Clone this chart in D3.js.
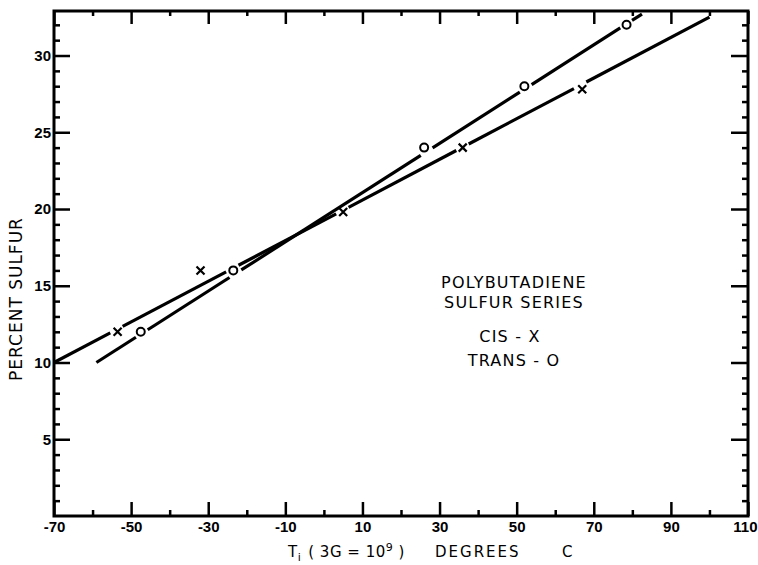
<!DOCTYPE html>
<html><head><meta charset="utf-8">
<script src="https://cdn.jsdelivr.net/npm/d3@7"></script>
<style>
body{margin:0;background:#fff;}
svg{display:block;}
text{fill:#000;}
</style></head><body>
<svg id="c" width="758" height="565"></svg>
<script>
// ---- data ----
const cisX = [-53.5, -32, 5, 36, 67];
const cisY = [12, 16, 19.8, 24, 27.8];
const transX = [-47.5, -23.5, 26, 52, 78.5];
const transY = [12, 16, 24, 28, 32];
const cisFitX = [-70, 100];
const cisFitY = [10, 32.5];
const transFitX = [-59, 82.5];
const transFitY = [10, 32.7];
const xTickLabels = [-70, -50, -30, -10, 10, 30, 50, 70, 90, 110];
const xMinorTicks = [-60, -40, -20, 0, 20, 40, 60, 80, 100];
const yTickLabels = [5, 10, 15, 20, 25, 30];
const yMinorTicks = [1,2,3,4,6,7,8,9,11,12,13,14,16,17,18,19,21,22,23,24,26,27,28,29,31,32];
const annotation = ["POLYBUTADIENE", "SULFUR SERIES", "CIS - X", "TRANS - O"];

const svg = d3.select("#c");
const L = 54, R = 748, T = 11, B = 516;
const x = d3.scaleLinear().domain([-70, 110]).range([L, R]);
const y = d3.scaleLinear().domain([0, 32.9]).range([B, T]);
const fmt = d => String(d);
const SANS = "Liberation Sans, Arial, sans-serif";
const DJ = "DejaVu Sans, sans-serif";

function styleAxis(g, w) {
  g.select(".domain").remove();
  g.selectAll(".tick line").attr("stroke", "#000").attr("stroke-width", w);
  g.selectAll(".tick text").style("font-size", "15px").style("font-weight", "bold")
   .style("font-family", SANS);
}
// bottom
svg.append("g").attr("transform", `translate(0,${B})`)
  .call(d3.axisBottom(x).tickValues(xTickLabels).tickSize(-14).tickPadding(5).tickFormat(fmt))
  .call(g => styleAxis(g, 2.5))
  .call(g => g.selectAll(".tick text").filter(d => d === 110).attr("text-anchor", "end").attr("dx", 9));
svg.append("g").attr("transform", `translate(0,${B})`)
  .call(d3.axisBottom(x).tickValues(xMinorTicks).tickSize(-6).tickFormat(""))
  .call(g => styleAxis(g, 2.5));
// top
svg.append("g").attr("transform", `translate(0,${T})`)
  .call(d3.axisTop(x).tickValues(xTickLabels).tickSize(-13).tickFormat(""))
  .call(g => styleAxis(g, 2.5));
svg.append("g").attr("transform", `translate(0,${T})`)
  .call(d3.axisTop(x).tickValues(xMinorTicks).tickSize(-5).tickFormat(""))
  .call(g => styleAxis(g, 2.5));
// left
svg.append("g").attr("transform", `translate(${L},0)`)
  .call(d3.axisLeft(y).tickValues(yTickLabels).tickSize(-16).tickPadding(3).tickFormat(fmt))
  .call(g => styleAxis(g, 2.5));
svg.append("g").attr("transform", `translate(${L},0)`)
  .call(d3.axisLeft(y).tickValues(yMinorTicks).tickSize(-6).tickFormat(""))
  .call(g => styleAxis(g, 2.5));
// right
svg.append("g").attr("transform", `translate(${R},0)`)
  .call(d3.axisRight(y).tickValues(yTickLabels).tickSize(-17).tickFormat(""))
  .call(g => styleAxis(g, 2.5));
svg.append("g").attr("transform", `translate(${R},0)`)
  .call(d3.axisRight(y).tickValues(yMinorTicks).tickSize(-6).tickFormat(""))
  .call(g => styleAxis(g, 2.5));

// frame
svg.append("rect").attr("x", L).attr("y", T).attr("width", R - L).attr("height", B - T)
  .attr("fill", "none").attr("stroke", "#000").attr("stroke-width", 3);

// fit lines with gaps around nearby markers
const allPts = cisX.map((v, i) => [x(v), y(cisY[i])])
  .concat(transX.map((v, i) => [x(v), y(transY[i])]));
function drawBroken(fx, fy) {
  const x0 = x(fx[0]), y0 = y(fy[0]), x1 = x(fx[1]), y1 = y(fy[1]);
  const dx = x1 - x0, dy = y1 - y0, len = Math.hypot(dx, dy);
  const ux = dx / len, uy = dy / len;
  const gaps = [];
  allPts.forEach(([px, py]) => {
    const t = (px - x0) * ux + (py - y0) * uy;
    const d = Math.abs((px - x0) * uy - (py - y0) * ux);
    if (d < 6 && t > -7 && t < len + 7) gaps.push([t - 7, t + 7]);
  });
  gaps.sort((a, b) => a[0] - b[0]);
  let s = 0;
  const segs = [];
  gaps.forEach(([a, b]) => { if (a > s) segs.push([s, a]); s = Math.max(s, b); });
  if (s < len) segs.push([s, len]);
  segs.forEach(([a, b]) => {
    svg.append("line")
      .attr("x1", x0 + ux * a).attr("y1", y0 + uy * a)
      .attr("x2", x0 + ux * b).attr("y2", y0 + uy * b)
      .attr("stroke", "#000").attr("stroke-width", 3.2).attr("stroke-linecap", "butt");
  });
}
drawBroken(cisFitX, cisFitY);
drawBroken(transFitX, transFitY);

// markers
const s = 4;
cisX.forEach((v, i) => {
  const cx = x(v), cy = y(cisY[i]);
  svg.append("path").attr("d", `M${cx - s},${cy - s}L${cx + s},${cy + s}M${cx - s},${cy + s}L${cx + s},${cy - s}`)
    .attr("stroke", "#000").attr("stroke-width", 2.2).attr("fill", "none");
});
transX.forEach((v, i) => {
  svg.append("circle").attr("cx", x(v)).attr("cy", y(transY[i])).attr("r", 4)
    .attr("fill", "#fff").attr("stroke", "#000").attr("stroke-width", 2);
});

// annotation
const annY = [288, 308, 342, 366];
const annX = [514, 514, 510, 514];
annotation.forEach((t, i) => {
  svg.append("text").attr("x", annX[i]).attr("y", annY[i]).attr("text-anchor", "middle")
    .style("font-family", DJ).style("font-size", "16px").style("letter-spacing", "1.2px").text(t);
});

// y title
svg.append("text").attr("transform", "translate(22,299) rotate(-90)")
  .attr("text-anchor", "middle").style("font-family", DJ).style("font-size", "17px")
  .style("letter-spacing", "1px").text("PERCENT  SULFUR");

// x title
const xt = svg.append("text").attr("y", 557).style("font-family", DJ).style("font-size", "15px").style("letter-spacing", "0.5px");
xt.append("tspan").attr("x", 288).text("T");
xt.append("tspan").attr("dy", 4).style("font-size", "11px").text("i");
xt.append("tspan").attr("dy", -4).attr("dx", 7).text("( 3G = 10");
xt.append("tspan").attr("dy", -6).style("font-size", "11px").text("9");
xt.append("tspan").attr("dy", 6).text(" )");
svg.append("text").attr("x", 435).attr("y", 557).style("font-family", DJ).style("font-size", "15px").style("letter-spacing", "2px").text("DEGREES");
svg.append("text").attr("x", 562).attr("y", 557).style("font-family", DJ).style("font-size", "15px").text("C");
</script>
</body></html>
